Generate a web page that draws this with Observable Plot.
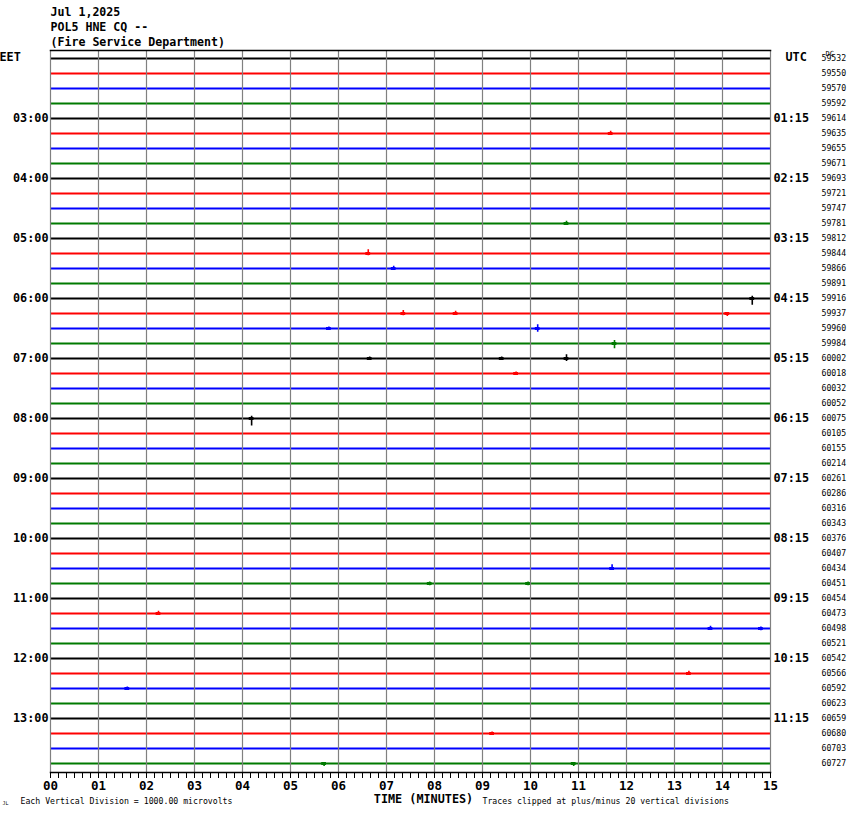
<!DOCTYPE html>
<html><head><meta charset="utf-8">
<script src="https://cdn.jsdelivr.net/npm/d3@7"></script>
<script src="https://cdn.jsdelivr.net/npm/@observablehq/plot@0.6"></script>
<style>body{margin:0;background:#fff}#chart svg{display:block}</style>
</head><body><div id="chart"></div>
<script>
const titleLines = ["Jul 1,2025", "POL5 HNE CQ --", "(Fire Service Department)"];
const traceCounts = [59532,59550,59570,59592,59614,59635,59655,59671,59693,59721,59747,59781,
  59812,59844,59866,59891,59916,59937,59960,59984,60002,60018,60032,60052,
  60075,60105,60155,60214,60261,60286,60316,60343,60376,60407,60434,60451,
  60454,60473,60498,60521,60542,60566,60592,60623,60659,60680,60703,60727];
const leftTimes = ["03:00","04:00","05:00","06:00","07:00","08:00","09:00","10:00","11:00","12:00","13:00"];
const rightTimes = ["01:15","02:15","03:15","04:15","05:15","06:15","07:15","08:15","09:15","10:15","11:15"];
const traceColors = ["#000000","#ff0000","#0000ff","#007a00"];
const minuteTicks = [0,1,2,3,4,5,6,7,8,9,10,11,12,13,14,15];
// events: trace row, minute, excursion up / down (in trace divisions)
const eventRow    = [5, 11, 13, 14, 16, 17, 17, 17, 18, 18, 19, 20, 20, 20, 21, 24, 34, 35, 35, 37, 38, 38, 41, 42, 45, 47, 47];
const eventMinute = [11.67, 10.75, 6.62, 7.15, 14.62, 7.35, 8.44, 14.1, 10.15, 5.8, 11.75, 10.75, 6.65, 9.4, 9.7, 4.19, 11.7, 7.9, 9.95, 2.25, 13.75, 14.8, 13.3, 1.6, 9.2, 5.7, 10.9];
const eventUp     = [0.15, 0.15, 0.25, 0.15, 0.15, 0.2, 0.15, 0.0, 0.25, 0.1, 0.2, 0.25, 0.1, 0.1, 0.1, 0.15, 0.25, 0.1, 0.1, 0.15, 0.15, 0.1, 0.15, 0.1, 0.1, 0.05, 0.05];
const eventDown   = [0.1, 0.1, 0.15, 0.1, 0.45, 0.15, 0.1, 0.2, 0.25, 0.1, 0.35, 0.2, 0.1, 0.1, 0.1, 0.5, 0.1, 0.15, 0.15, 0.1, 0.05, 0.15, 0.05, 0.1, 0.1, 0.2, 0.2];

const traces = traceCounts.map((count, i) => ({row: i, count, color: traceColors[i % 4]}));
const events = eventRow.map((r, i) => ({row: r, minute: eventMinute[i], y1: r - eventUp[i], y2: r + eventDown[i], color: traceColors[r % 4]}));
const hourRows = leftTimes.map((t, i) => 4 * (i + 1));
const minorTicks = d3.range(0, 91).filter(k => k % 6 !== 0).map(k => k / 6);
const mono = "DejaVu Sans Mono, monospace";

const chart = Plot.plot({
  width: 850, height: 814,
  marginTop: 50, marginBottom: 42, marginLeft: 50, marginRight: 80,
  x: {domain: [0, 15], axis: null, label: null},
  y: {domain: [-0.5333, 47.6], reverse: true, axis: null, label: null},
  color: {type: "identity"},
  style: {fontFamily: mono, background: "#fff", overflow: "visible"},
  marks: [
    Plot.ruleY(traces, {y: "row", x1: 0, x2: 15, stroke: "color", strokeWidth: 1.8}),
    Plot.ruleX(events, {x: "minute", y1: "y1", y2: "y2", stroke: "color", strokeWidth: 1.6}),
    Plot.ruleY(events, {y: "row", x1: d => d.minute - 0.05, x2: d => d.minute + 0.05, stroke: "color", strokeWidth: 3}),
    Plot.gridX(minuteTicks, {stroke: "#808080", strokeOpacity: 1, strokeWidth: 1.2}),
    Plot.frame({anchor: "top", stroke: "#000", strokeWidth: 1.5}),
    Plot.frame({anchor: "bottom", stroke: "#000", strokeWidth: 1.5}),
    Plot.axisX(minorTicks, {anchor: "bottom", tickSize: 6, tickFormat: () => "", stroke: "#000", label: null}),
    Plot.axisX(minuteTicks, {anchor: "bottom", tickSize: 6, tickPadding: 3, tickFormat: d3.format("02d"), label: null,
      fontSize: 12.5, fontWeight: "bold", fill: "#000", stroke: "#000", lineAnchor: "top"}),
    Plot.axisY(hourRows, {anchor: "left", tickSize: 0, tickPadding: 2, tickFormat: (d, i) => leftTimes[i], label: null,
      fontSize: 11.8, fontWeight: "bold", fill: "#000"}),
    Plot.axisY(hourRows, {anchor: "right", tickSize: 0, tickPadding: 3, tickFormat: (d, i) => rightTimes[i], label: null,
      fontSize: 11.8, fontWeight: "bold", fill: "#000"}),
    Plot.axisY(traces.map(d => d.row), {anchor: "right", tickSize: 0, tickPadding: 51, tickFormat: (d, i) => String(traceCounts[i]), label: null,
      fontSize: 8.2, fill: "#000"}),
    Plot.text(["EET"], {frameAnchor: "top-left", y: 0, dx: -51, dy: -1, lineAnchor: "middle", textAnchor: "start", fontSize: 11.8, fontWeight: "bold"}),
    Plot.text(["UTC"], {frameAnchor: "top-right", y: 0, dx: 15, dy: -1, lineAnchor: "middle", textAnchor: "start", fontSize: 11.8, fontWeight: "bold"}),
    Plot.text(["DC"], {frameAnchor: "top-right", dx: 55, dy: 3, lineAnchor: "middle", textAnchor: "start", fontSize: 7}),
    Plot.text([titleLines[0]], {frameAnchor: "top-left", dy: -38, lineAnchor: "middle", textAnchor: "start", fontSize: 11.6, fontWeight: "bold"}),
    Plot.text([titleLines[1]], {frameAnchor: "top-left", dy: -23, lineAnchor: "middle", textAnchor: "start", fontSize: 11.6, fontWeight: "bold"}),
    Plot.text([titleLines[2]], {frameAnchor: "top-left", dy: -8, lineAnchor: "middle", textAnchor: "start", fontSize: 11.6, fontWeight: "bold"}),
    Plot.text(["TIME (MINUTES)"], {frameAnchor: "bottom", dx: 13, dy: 27, lineAnchor: "middle", fontSize: 11.8, fontWeight: "bold"}),
    Plot.text(["Each Vertical Division = 1000.00 microvolts"], {frameAnchor: "bottom-left", dx: -30, dy: 29, lineAnchor: "middle", textAnchor: "start", fontSize: 8.2}),
    Plot.text(["Traces clipped at plus/minus 20 vertical divisions"], {frameAnchor: "bottom-left", dx: 432, dy: 29, lineAnchor: "middle", textAnchor: "start", fontSize: 8.2}),
    Plot.text(["JL"], {frameAnchor: "bottom-left", dx: -48, dy: 31, lineAnchor: "middle", textAnchor: "start", fontSize: 5})
  ]
});
document.getElementById("chart").appendChild(chart);
</script></body></html>
